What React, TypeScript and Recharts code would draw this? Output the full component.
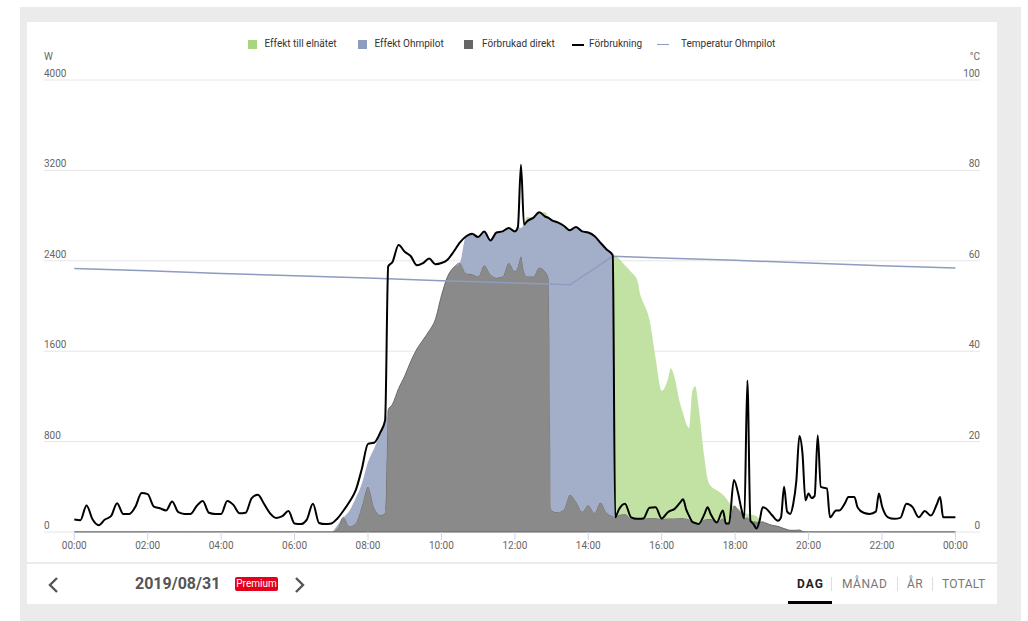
import {
  ComposedChart,
  Area,
  Line,
  XAxis,
  YAxis,
  CartesianGrid,
  ReferenceLine,
} from "recharts";

// tidpunkter (HH:MM), tätare runt branta kanter och spikar
const times = [
  // natt
  "00:00", "00:10", "00:20", "00:30", "00:40", "00:50", "01:00", "01:10", "01:20", "01:30",
  "01:40", "01:50", "02:00", "02:10", "02:20", "02:30", "02:40", "02:50", "03:00", "03:10",
  "03:20", "03:30", "03:40", "03:50", "04:00", "04:10", "04:20", "04:30", "04:40", "04:50",
  "05:00", "05:10", "05:20", "05:30", "05:40", "05:50", "06:00", "06:10", "06:20", "06:30",
  "06:40", "06:50", "07:00",
  // morgon
  "07:10", "07:20", "07:30", "07:40", "07:50", "08:00", "08:10", "08:20", "08:28", "08:33",
  "08:40", "08:50", "09:00", "09:10", "09:20", "09:30", "09:40", "09:50", "10:00", "10:10",
  "10:20", "10:30",
  // mitt på dagen
  "10:40", "10:50", "11:00", "11:10", "11:20", "11:30", "11:40", "11:50", "12:00", "12:05",
  "12:10", "12:15", "12:20", "12:30", "12:40", "12:50", "12:55", "13:00", "13:10", "13:20",
  "13:30", "13:40", "13:50", "14:00", "14:10", "14:20", "14:30", "14:40",
  // eftermiddag
  "14:44", "14:50", "15:00", "15:10", "15:20", "15:25", "15:30", "15:40", "15:50", "16:00",
  "16:10", "16:15", "16:20", "16:30", "16:35", "16:40", "16:45", "16:50", "16:55", "17:00",
  "17:10", "17:15", "17:20", "17:30", "17:40", "17:45", "17:50", "17:58", "18:05", "18:10",
  "18:15", "18:20", "18:25", "18:30", "18:35", "18:40", "18:45", "18:50", "19:00", "19:10",
  "19:15", "19:20", "19:25", "19:30", "19:35", "19:40", "19:45", "19:50", "19:55",
  // kväll
  "20:00", "20:05", "20:10", "20:15", "20:20", "20:30", "20:35", "20:45", "20:50", "21:00",
  "21:05", "21:15", "21:20", "21:30", "21:40", "21:50", "21:55", "22:00", "22:10", "22:20",
  "22:30", "22:40", "22:50", "23:00", "23:10", "23:20", "23:30", "23:35", "23:40", "23:50",
  "24:00",
];

// Förbrukning (W)
const forbrukning = [
  110, 105, 235, 110, 60, 110, 140, 255, 160, 160,
  225, 345, 335, 225, 210, 190, 270, 175, 160, 160,
  230, 275, 170, 160, 160, 275, 240, 165, 170, 300,
  330, 250, 165, 125, 140, 185, 75, 70, 110, 250,
  80, 70, 75,
  120, 190, 270, 370, 560, 780, 790, 880, 990, 2350,
  2390, 2540, 2480, 2440, 2360, 2380, 2420, 2370, 2380, 2410,
  2480, 2560,
  2615, 2640, 2610, 2660, 2580, 2650, 2660, 2690, 2660, 2700,
  3250, 2720, 2750, 2780, 2830, 2790, 2780, 2760, 2740, 2710,
  2670, 2700, 2660, 2650, 2620, 2560, 2500, 2450,
  130, 200, 250, 130, 117, 118, 120, 215, 220, 120,
  175, 190, 200, 260, 290, 200, 140, 90, 80, 70,
  160, 220, 160, 85, 190, 75, 75, 460, 340, 210,
  120, 1340, 100, 70, 30, 100, 220, 210, 150, 100,
  130, 400, 180, 160, 250, 450, 850, 700, 280,
  340, 300, 320, 856, 400, 385, 130, 190, 190, 260,
  310, 310, 220, 170, 160, 180, 340, 230, 130, 117,
  125, 250, 220, 130, 185, 145, 250, 310, 130, 130,
  130,
];

// Förbrukad direkt (W)
const direkt = [
  0, 0, 0, 0, 0, 0, 0, 0, 0, 0,
  0, 0, 0, 0, 0, 0, 0, 0, 0, 0,
  0, 0, 0, 0, 0, 0, 0, 0, 0, 0,
  0, 0, 0, 0, 0, 0, 0, 0, 0, 0,
  0, 0, 0,
  30, 130, 50, 80, 230, 400, 220, 150, 170, 1080,
  1130, 1270, 1380, 1510, 1620, 1700, 1780, 1880, 2090, 2260,
  2340, 2380,
  2290, 2280, 2260, 2360, 2280, 2250, 2260, 2380, 2310, 2350,
  2440, 2300, 2260, 2260, 2340, 2300, 2250, 190, 175, 200,
  330, 270, 180, 240, 170, 260, 170, 140,
  130, 150, 160, 120, 117, 117, 118, 125, 125, 115,
  120, 120, 120, 125, 125, 120, 110, 90, 80, 70,
  110, 115, 115, 85, 120, 75, 75, 230, 200, 170,
  120, 130, 100, 95, 90, 90, 90, 80, 60, 50,
  40, 30, 22, 15, 15, 15, 18, 5, 0,
  0, 0, 0, 0, 0, 0, 0, 0, 0, 0,
  0, 0, 0, 0, 0, 0, 0, 0, 0, 0,
  0, 0, 0, 0, 0, 0, 0, 0, 0, 0,
  0,
];

// Effekt Ohmpilot (W)
const ohmpilot = [
  0, 0, 0, 0, 0, 0, 0, 0, 0, 0,
  0, 0, 0, 0, 0, 0, 0, 0, 0, 0,
  0, 0, 0, 0, 0, 0, 0, 0, 0, 0,
  0, 0, 0, 0, 0, 0, 0, 0, 0, 0,
  0, 0, 0,
  30, 0, 140, 220, 200, 220, 520, 720, 810, 0,
  0, 0, 0, 0, 0, 0, 0, 0, 0, 0,
  0, 0,
  325, 360, 350, 300, 300, 400, 400, 310, 350, 350,
  250, 420, 490, 520, 490, 490, 530, 2570, 2565, 2510,
  2340, 2430, 2480, 2410, 2450, 2300, 2330, 2310,
  0, 0, 0, 0, 0, 0, 0, 0, 0, 0,
  0, 0, 0, 0, 0, 0, 0, 0, 0, 0,
  0, 0, 0, 0, 0, 0, 0, 0, 0, 0,
  0, 0, 0, 0, 0, 0, 0, 0, 0, 0,
  0, 0, 0, 0, 0, 0, 0, 0, 0,
  0, 0, 0, 0, 0, 0, 0, 0, 0, 0,
  0, 0, 0, 0, 0, 0, 0, 0, 0, 0,
  0, 0, 0, 0, 0, 0, 0, 0, 0, 0,
  0,
];

// Effekt till elnätet (W)
const elnatet = [
  0, 0, 0, 0, 0, 0, 0, 0, 0, 0,
  0, 0, 0, 0, 0, 0, 0, 0, 0, 0,
  0, 0, 0, 0, 0, 0, 0, 0, 0, 0,
  0, 0, 0, 0, 0, 0, 0, 0, 0, 0,
  0, 0, 0,
  0, 0, 0, 0, 0, 0, 0, 0, 0, 0,
  0, 0, 0, 0, 0, 0, 0, 0, 0, 0,
  0, 0,
  0, 0, 0, 0, 0, 0, 0, 0, 0, 0,
  0, 0, 40, 0, 0, 40, 0, 0, 0, 0,
  0, 0, 0, 0, 0, 0, 0, 0,
  2310, 2270, 2200, 2180, 2113, 1983, 1912, 1755, 1415, 1135,
  1230, 1330, 1270, 1015, 925, 840, 810, 1160, 1210, 1050,
  540, 355, 295, 285, 210, 225, 185, 0, 10, 20,
  55, 30, 55, 55, 50, 20, 0, 0, 0, 0,
  0, 0, 0, 0, 0, 0, 0, 0, 0,
  0, 0, 0, 0, 0, 0, 0, 0, 0, 0,
  0, 0, 0, 0, 0, 0, 0, 0, 0, 0,
  0, 0, 0, 0, 0, 0, 0, 0, 0, 0,
  0,
];

// Temperatur Ohmpilot (°C)
const tempTimes = [
  "00:00", "02:00", "04:00", "06:00", "08:00", "10:00", "12:00", "13:30",
  "14:40", "16:00", "18:00", "20:00", "22:00", "24:00",
];
const tempValues = [58.3, 57.8, 57.2, 56.7, 56.2, 55.6, 55.1, 54.7, 61.0, 60.6, 60.1, 59.5, 58.9, 58.4];

const xTicks = [0, 120, 240, 360, 480, 600, 720, 840, 960, 1080, 1200, 1320, 1440];
const wTicks = [0, 800, 1600, 2400, 3200, 4000];
const cTicks = [0, 20, 40, 60, 80, 100];

const toMin = (t: string) => {
  const [h, m] = t.split(":").map(Number);
  return h * 60 + m;
};

const fmt = (m: number) => {
  const mm = m % 1440;
  const h = Math.floor(mm / 60);
  const min = mm % 60;
  return `${String(h).padStart(2, "0")}:${String(min).padStart(2, "0")}`;
};

const rows = times.map((t, i) => ({
  t: toMin(t),
  forbrukning: forbrukning[i],
  direkt: direkt[i],
  ohmpilot: ohmpilot[i],
  elnatet: elnatet[i],
}));

const tempRows = tempTimes.map((t, i) => ({ t: toMin(t), temp: tempValues[i] }));

// etiketter ovanför rutnätslinjen, vänsterjusterade vid x=17 / högerjusterade vid x=953
const LeftTick = (props: any) => (
  <text x={17} y={props.y - 3} fontSize={10} fill="#666" textAnchor="start">
    {props.payload.value}
  </text>
);

const RightTick = (props: any) => (
  <text x={953} y={props.y - 3} fontSize={10} fill="#666" textAnchor="end">
    {props.payload.value}
  </text>
);

const legendItems = [
  { label: "Effekt till elnätet", color: "#a8d680", kind: "box", left: 248, textLeft: 264.5 },
  { label: "Effekt Ohmpilot", color: "#8e9cc0", kind: "box", left: 357.5, textLeft: 374.5 },
  { label: "Förbrukad direkt", color: "#666666", kind: "box", left: 464, textLeft: 482 },
  { label: "Förbrukning", color: "#000000", kind: "line", left: 572, textLeft: 589 },
  { label: "Temperatur Ohmpilot", color: "#8e9cc0", kind: "line", left: 657, textLeft: 681 },
];

function Chevron({ dir }: { dir: "left" | "right" }) {
  return (
    <svg width="12" height="18" viewBox="0 0 12 18">
      <polyline
        points={dir === "left" ? "10,2 3,9 10,16" : "2,2 9,9 2,16"}
        fill="none"
        stroke="#555"
        strokeWidth="2.4"
      />
    </svg>
  );
}

export default function App() {
  return (
    <div
      style={{
        position: "fixed",
        left: 0,
        top: 0,
        width: 1028,
        height: 621,
        overflow: "hidden",
        background: "#fff",
        fontFamily: "Roboto, Arial, sans-serif",
      }}
    >
      <div style={{ position: "absolute", left: 20, top: 7, width: 1001, height: 620, background: "#ebebeb" }} />

      {/* diagramkort */}
      <div style={{ position: "absolute", left: 27, top: 22, width: 970, height: 540, background: "#fff" }}>
        <ComposedChart
          width={970}
          height={540}
          data={rows}
          margin={{ top: 58, right: 0, bottom: 0, left: 0 }}
        >
          <CartesianGrid yAxisId="w" vertical={false} stroke="#e6e6e6" />
          <XAxis
            dataKey="t"
            type="number"
            domain={[-49.5, 1480.2]}
            ticks={xTicks}
            interval={0}
            tickFormatter={fmt}
            axisLine={false}
            tickLine={{ stroke: "#ccd6eb" }}
            tickSize={8}
            tickMargin={2}
            height={30}
            tick={{ fontSize: 10, fill: "#666" }}
            allowDataOverflow
          />
          <YAxis
            yAxisId="w"
            orientation="left"
            width={17}
            domain={[0, 4000]}
            ticks={wTicks}
            interval={0}
            axisLine={false}
            tickLine={false}
            tick={LeftTick}
            allowDataOverflow
          />
          <YAxis
            yAxisId="c"
            orientation="right"
            width={17}
            domain={[0, 100]}
            ticks={cTicks}
            interval={0}
            axisLine={false}
            tickLine={false}
            tick={RightTick}
            allowDataOverflow
          />
          <Area
            yAxisId="w"
            stackId="p"
            dataKey="direkt"
            type="monotone"
            fill="#8a8a8a"
            fillOpacity={1}
            stroke="#6a6a6a"
            strokeWidth={1}
            isAnimationActive={false}
          />
          <Area
            yAxisId="w"
            stackId="p"
            dataKey="ohmpilot"
            type="monotone"
            fill="#a3afc9"
            fillOpacity={1}
            stroke="none"
            isAnimationActive={false}
          />
          <Area
            yAxisId="w"
            stackId="p"
            dataKey="elnatet"
            type="monotone"
            fill="#c2e2a3"
            fillOpacity={1}
            stroke="none"
            isAnimationActive={false}
          />
          <ReferenceLine
            yAxisId="w"
            segment={[
              { x: 0, y: 0 },
              { x: 1440, y: 0 },
            ]}
            stroke="#666"
            strokeWidth={1}
          />
          <Line
            yAxisId="c"
            data={tempRows}
            dataKey="temp"
            type="linear"
            stroke="#8e9cc0"
            strokeWidth={1.5}
            dot={false}
            activeDot={false}
            isAnimationActive={false}
          />
          <Line
            yAxisId="w"
            dataKey="forbrukning"
            type="monotone"
            stroke="#000"
            strokeWidth={2}
            dot={false}
            activeDot={false}
            isAnimationActive={false}
          />
        </ComposedChart>
      </div>

      {/* enheter */}
      <div style={{ position: "absolute", left: 44, top: 51, fontSize: 10, color: "#666" }}>W</div>
      <div style={{ position: "absolute", left: 900, width: 80, top: 51, fontSize: 10, color: "#666", textAlign: "right" }}>
        °C
      </div>

      {/* förklaring */}
      {legendItems.map((it) => (
        <div key={it.label}>
          {it.kind === "box" ? (
            <div style={{ position: "absolute", left: it.left, top: 40, width: 9, height: 9, background: it.color }} />
          ) : (
            <div style={{ position: "absolute", left: it.left, top: 43.5, width: 12, height: it.color === "#000000" ? 2 : 1.5, background: it.color }} />
          )}
          <div style={{ position: "absolute", left: it.textLeft, top: 38, fontSize: 10, lineHeight: "12px", color: "#333", whiteSpace: "nowrap" }}>
            {it.label}
          </div>
        </div>
      ))}

      {/* navigering */}
      <div style={{ position: "absolute", left: 27, top: 564, width: 970, height: 40, background: "#fff" }} />
      <div style={{ position: "absolute", left: 47, top: 576 }}>
        <Chevron dir="left" />
      </div>
      <div style={{ position: "absolute", left: 135, top: 575, fontSize: 16, fontWeight: 700, color: "#555", lineHeight: "18px" }}>
        2019/08/31
      </div>
      <div
        style={{
          position: "absolute",
          left: 235,
          top: 577,
          width: 43,
          height: 14,
          background: "#e2001a",
          borderRadius: 2,
          color: "#fff",
          fontSize: 10,
          lineHeight: "14px",
          textAlign: "center",
        }}
      >
        Premium
      </div>
      <div style={{ position: "absolute", left: 294, top: 576 }}>
        <Chevron dir="right" />
      </div>

      <div style={{ position: "absolute", left: 797, top: 577, fontSize: 12, fontWeight: 700, color: "#222", letterSpacing: 1, lineHeight: "14px" }}>
        DAG
      </div>
      <div style={{ position: "absolute", left: 831, top: 577, width: 1, height: 14, background: "#ddd" }} />
      <div style={{ position: "absolute", left: 842, top: 577, fontSize: 12, color: "#777", letterSpacing: 0.5, lineHeight: "14px" }}>
        MÅNAD
      </div>
      <div style={{ position: "absolute", left: 897, top: 577, width: 1, height: 14, background: "#ddd" }} />
      <div style={{ position: "absolute", left: 907, top: 577, fontSize: 12, color: "#777", letterSpacing: 0.5, lineHeight: "14px" }}>
        ÅR
      </div>
      <div style={{ position: "absolute", left: 932, top: 577, width: 1, height: 14, background: "#ddd" }} />
      <div style={{ position: "absolute", left: 942, top: 577, fontSize: 12, color: "#777", letterSpacing: 0.3, lineHeight: "14px" }}>
        TOTALT
      </div>
      <div style={{ position: "absolute", left: 788, top: 601, width: 44, height: 3, background: "#000" }} />
    </div>
  );
}
